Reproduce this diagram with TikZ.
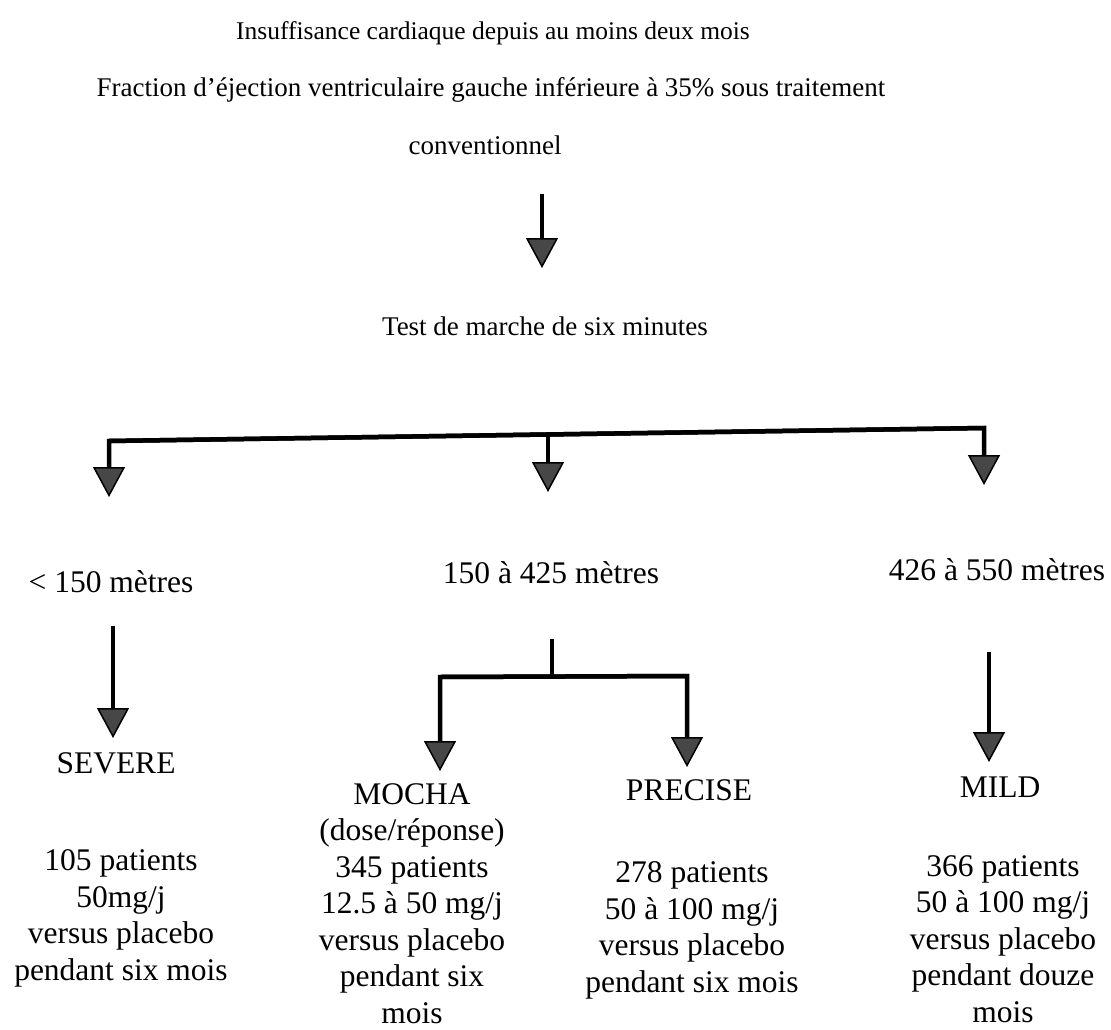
\documentclass[tikz,border=0pt]{standalone}
\usepackage{fontspec}
\setmainfont{Liberation Serif}
\usetikzlibrary{arrows.meta}
\begin{document}
\begin{tikzpicture}[x=1pt,y=-1pt,
  toptext/.style={font=\fontsize{27}{31}\selectfont, inner sep=0pt, anchor=base},
  lowtext/.style={font=\fontsize{31.5}{36.5}\selectfont, inner sep=0pt, anchor=base, align=center},
  conn/.style={line width=4.5pt, draw=black, line join=miter},
  tipped/.style={-{Triangle[width=32pt,length=30pt,line width=1.5pt,fill=black!72]}}]
\useasboundingbox (0,0) rectangle (1111,1030);

% texts (multi-line nodes: base = baseline of last line)
\node[toptext, font=\fontsize{25.5}{30}\selectfont] (l1) at (493,40) {Insuffisance cardiaque depuis au moins deux mois};
\node[toptext] (l2) at (491,97) {Fraction d’éjection ventriculaire gauche inférieure à 35\% sous traitement};
\node[toptext] (l3) at (485,155) {conventionnel};
\node[toptext] (test) at (545,335) {Test de marche de six minutes};

\node[lowtext] (r1) at (111,592) {< 150 mètres};
\node[lowtext] (r2) at (551,583) {150 à 425 mètres};
\node[lowtext] (r3) at (997,580) {426 à 550 mètres};

\node[lowtext] (severe) at (116,773) {SEVERE};
\node[lowtext] (mocha) at (412,1023) {MOCHA\\(dose/réponse)\\345 patients\\12.5 à 50 mg/j\\versus placebo\\pendant six\\mois};
\node[lowtext] (precise) at (689,800) {PRECISE};
\node[lowtext] (mild) at (1000,797) {MILD};

\node[lowtext] (sevd) at (121,980) {105 patients\\50mg/j\\versus placebo\\pendant six mois};
\node[lowtext] (precd) at (692,992) {278 patients\\50 à 100 mg/j\\versus placebo\\pendant six mois};
\node[lowtext] (mildd) at (1003,1022) {366 patients\\50 à 100 mg/j\\versus placebo\\pendant douze\\mois};

% connector points
\coordinate (a0s) at (542,194);
\coordinate (a0e) at (542,268);
\coordinate (jl) at (109,441);
\coordinate (jm) at (548,436);
\coordinate (jr) at (984,428);
\coordinate (tl) at (109,497);
\coordinate (tm) at (548,492);
\coordinate (tr) at (984,485);
\coordinate (sevs) at (113,626);
\coordinate (seve) at (113,738);
\coordinate (mids) at (552,639);
\coordinate (midj) at (552,677);
\coordinate (midl) at (440,677);
\coordinate (midr) at (687,676);
\coordinate (tmoc) at (440,771);
\coordinate (tpre) at (687,767);
\coordinate (mils) at (989,652);
\coordinate (mile) at (989,762);

% connectors
\draw[conn,tipped] (a0s) -- (a0e);
\draw[conn,tipped] (jr) -- (jl) -- (tl);
\draw[conn,tipped] (jl) -- (jr) -- (tr);
\draw[conn,tipped] (jm) -- (tm);
\draw[conn,tipped] (sevs) -- (seve);
\draw[conn] (mids) -- (midj);
\draw[conn,tipped] (midr) -- (midl) -- (tmoc);
\draw[conn,tipped] (midl) -- (midr) -- (tpre);
\draw[conn,tipped] (mils) -- (mile);
\end{tikzpicture}
\end{document}
